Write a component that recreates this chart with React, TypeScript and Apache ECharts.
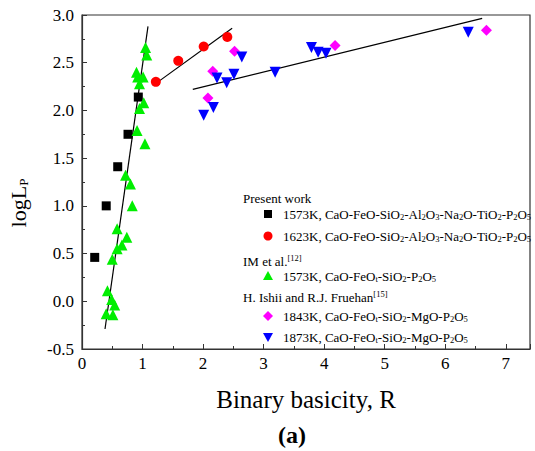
import React, { useEffect, useRef } from "react";
import * as echarts from "echarts";

// Present work, 1573K (black squares)
const pw1573X = [0.21, 0.40, 0.59, 0.76, 0.93];
const pw1573Y = [0.46, 1.00, 1.41, 1.75, 2.14];
// Present work, 1623K (red circles)
const pw1623X = [1.22, 1.59, 2.01, 2.40];
const pw1623Y = [2.30, 2.52, 2.67, 2.77];
// IM et al., 1573K (green triangles)
const imX = [1.05, 1.07, 0.90, 0.92, 1.01, 0.95, 1.02, 0.95, 0.91, 1.04, 0.72, 0.80, 0.83, 0.58, 0.74, 0.66, 0.58, 0.50, 0.42, 0.49, 0.54, 0.40, 0.51];
const imY = [2.66, 2.58, 2.40, 2.35, 2.35, 2.28, 2.08, 2.02, 1.79, 1.65, 1.32, 1.23, 1.00, 0.76, 0.67, 0.59, 0.55, 0.44, 0.11, 0.02, -0.04, -0.13, -0.14];
// Ishii & Fruehan, 1843K (magenta diamonds)
const i1843X = [2.08, 2.16, 2.52, 4.18, 6.68];
const i1843Y = [2.13, 2.41, 2.62, 2.68, 2.84];
// Ishii & Fruehan, 1873K (blue down triangles)
const i1873X = [2.01, 2.17, 2.23, 2.39, 2.51, 2.64, 3.19, 3.79, 3.90, 4.03, 6.38];
const i1873Y = [1.95, 2.03, 2.34, 2.29, 2.38, 2.56, 2.40, 2.66, 2.61, 2.60, 2.82];
// Fitted lines (endpoints)
const fit1X = [0.38, 1.09];
const fit1Y = [-0.29, 2.88];
const fit2X = [1.17, 2.48];
const fit2Y = [2.26, 2.86];
const fit3X = [1.83, 6.61];
const fit3Y = [2.22, 2.965];

const xTicks = [0, 1, 2, 3, 4, 5, 6, 7];
const yTicks = [-0.5, 0.0, 0.5, 1.0, 1.5, 2.0, 2.5, 3.0];

const zip = (xs: number[], ys: number[]) => xs.map((x, i) => [x, ys[i]]);

const FONT = "'Liberation Serif', 'Times New Roman', serif";

const rich = {
  n: { fontFamily: FONT, fontSize: 13, lineHeight: 15, fill: "#000" },
  s: { fontFamily: FONT, fontSize: 8.5, lineHeight: 6, verticalAlign: "bottom", fill: "#000" },
  u: { fontFamily: FONT, fontSize: 8.5, lineHeight: 8, verticalAlign: "top", fill: "#000" },
};

const seg = (parts: [string, string][]) => parts.map(([k, t]) => `{${k}|${t}}`).join("");

const formula1 = seg([
  ["n", "1573K, CaO-FeO-SiO"], ["s", "2"], ["n", "-Al"], ["s", "2"], ["n", "O"], ["s", "3"],
  ["n", "-Na"], ["s", "2"], ["n", "O-TiO"], ["s", "2"], ["n", "-P"], ["s", "2"], ["n", "O"], ["s", "5"],
]);
const formula2 = formula1.replace("1573K", "1623K");
const formula3 = seg([
  ["n", "1573K, CaO-FeO"], ["s", "t"], ["n", "-SiO"], ["s", "2"], ["n", "-P"], ["s", "2"], ["n", "O"], ["s", "5"],
]);
const formula4 = seg([
  ["n", "1843K, CaO-FeO"], ["s", "t"], ["n", "-SiO"], ["s", "2"], ["n", "-MgO-P"], ["s", "2"], ["n", "O"], ["s", "5"],
]);
const formula5 = formula4.replace("1843K", "1873K");

export default function App() {
  const ref = useRef<HTMLDivElement>(null);
  useEffect(() => {
    if (!ref.current) return;
    const chart = echarts.init(ref.current, null, { renderer: "svg" });
    const scatter = (name: string, xs: number[], ys: number[], symbol: string, size: number, color: string) => ({
      name,
      type: "scatter",
      data: zip(xs, ys),
      symbol,
      symbolSize: size,
      itemStyle: { color, opacity: 1 },
      z: 3,
    });
    const line = (xs: number[], ys: number[]) => ({
      type: "line",
      data: zip(xs, ys),
      symbol: "none",
      lineStyle: { color: "#000", width: 1.2 },
      z: 2,
    });
    const textX = 283;
    const markX = 268;
    const legendRows: any[] = [
      { type: "text", x: 243, y: 198, style: { text: seg([["n", "Present work"]]), rich, verticalAlign: "middle" } },
      { type: "text", x: textX, y: 214, style: { text: formula1, rich, verticalAlign: "middle" } },
      { type: "text", x: textX, y: 236, style: { text: formula2, rich, verticalAlign: "middle" } },
      { type: "text", x: 243, y: 261, style: { text: seg([["n", "IM et al."], ["u", "[12]"]]), rich, verticalAlign: "middle" } },
      { type: "text", x: textX, y: 276, style: { text: formula3, rich, verticalAlign: "middle" } },
      { type: "text", x: 243, y: 297, style: { text: seg([["n", "H. Ishii and R.J. Fruehan"], ["u", "[15]"]]), rich, verticalAlign: "middle" } },
      { type: "text", x: textX, y: 316, style: { text: formula4, rich, verticalAlign: "middle" } },
      { type: "text", x: textX, y: 337, style: { text: formula5, rich, verticalAlign: "middle" } },
      { type: "rect", shape: { x: markX - 4, y: 214 - 4, width: 8, height: 8 }, style: { fill: "#000" } },
      { type: "circle", shape: { cx: markX, cy: 236, r: 4.5 }, style: { fill: "#ff0000" } },
      { type: "polygon", shape: { points: [[markX, 271], [markX + 5, 280], [markX - 5, 280]] }, style: { fill: "#00ee00" } },
      { type: "polygon", shape: { points: [[markX, 311], [markX + 5, 316], [markX, 321], [markX - 5, 316]] }, style: { fill: "#ff00ff" } },
      { type: "polygon", shape: { points: [[markX - 5, 333], [markX + 5, 333], [markX, 342]] }, style: { fill: "#0000ff" } },
    ];
    chart.setOption({
      animation: false,
      grid: { left: 82, top: 15, right: 5, bottom: 102, show: true, borderColor: "#333", borderWidth: 1.2, backgroundColor: "transparent" },
      xAxis: {
        type: "value",
        min: 0,
        max: 7.4,
        interval: 1,
        axisLine: { show: true, onZero: false, lineStyle: { color: "#333", width: 1.2 } },
        axisTick: { show: true, inside: true, length: 5, lineStyle: { color: "#333" } },
        minorTick: { show: true, splitNumber: 2, length: 3, lineStyle: { color: "#333" } },
        splitLine: { show: false },
        axisLabel: {
          color: "#000",
          fontFamily: FONT,
          fontSize: 17,
          margin: 6,
          showMaxLabel: false,
          formatter: (v: number) => (xTicks.includes(v) ? String(v) : ""),
        },
        name: "Binary basicity, R",
        nameLocation: "middle",
        nameGap: 38,
        nameTextStyle: { color: "#000", fontFamily: FONT, fontSize: 25 },
      },
      yAxis: {
        type: "value",
        min: -0.5,
        max: 3.0,
        interval: 0.5,
        axisLine: { show: true, onZero: false, lineStyle: { color: "#333", width: 1.2 } },
        axisTick: { show: true, inside: true, length: 5, lineStyle: { color: "#333" } },
        minorTick: { show: true, splitNumber: 2, length: 3, lineStyle: { color: "#333" } },
        splitLine: { show: false },
        axisLabel: {
          color: "#000",
          fontFamily: FONT,
          fontSize: 17,
          margin: 8,
          formatter: (v: number) => (yTicks.includes(v) ? v.toFixed(1) : ""),
        },
      },
      graphic: [
        {
          type: "text",
          x: 18,
          y: 203,
          rotation: Math.PI / 2,
          style: {
            text: "{a|logL}{b|P}",
            align: "center",
            verticalAlign: "middle",
            rich: {
              a: { fontFamily: FONT, fontSize: 22, lineHeight: 24, fill: "#000" },
              b: { fontFamily: FONT, fontSize: 13, lineHeight: 6, verticalAlign: "bottom", fill: "#000" },
            },
          },
        },
        {
          type: "text",
          x: 292,
          y: 435,
          style: { text: "(a)", font: `bold 24px ${FONT}`, fill: "#000", align: "center", verticalAlign: "middle" },
        },
        ...legendRows,
      ],
      series: [
        line(fit1X, fit1Y),
        line(fit2X, fit2Y),
        line(fit3X, fit3Y),
        scatter("1573K present", pw1573X, pw1573Y, "rect", 9, "#000"),
        scatter("1623K present", pw1623X, pw1623Y, "circle", 10, "#ff0000"),
        scatter("IM 1573K", imX, imY, "triangle", 11, "#00ee00"),
        scatter("1843K", i1843X, i1843Y, "diamond", 11, "#ff00ff"),
        { ...scatter("1873K", i1873X, i1873Y, "triangle", 11, "#0000ff"), symbolRotate: 180 },
      ],
    });
    return () => chart.dispose();
  }, []);
  return <div ref={ref} style={{ width: 535, height: 451, position: "absolute", left: 0, top: 0, background: "#fff" }} />;
}
